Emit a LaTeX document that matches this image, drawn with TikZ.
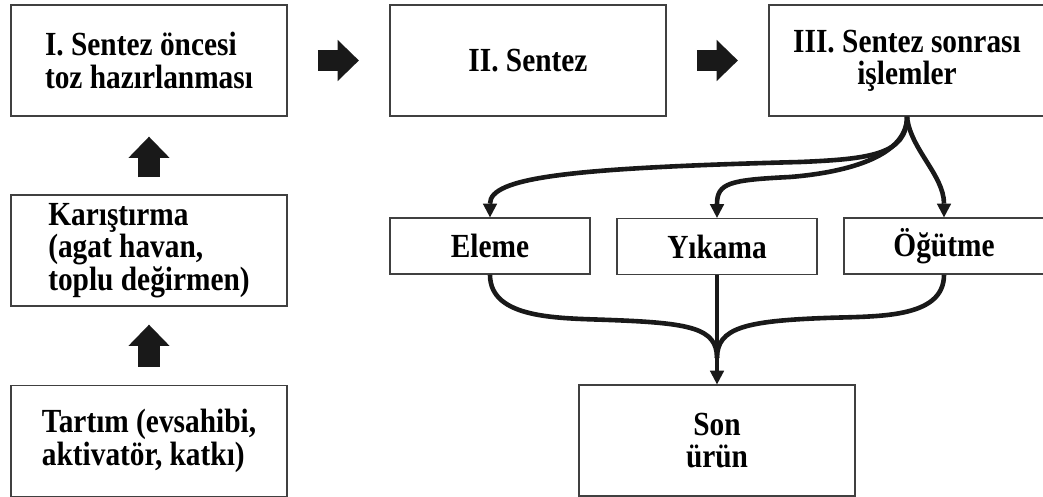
\documentclass[tikz,border=0pt]{standalone}
\usepackage{fontspec}
\setmainfont{Liberation Serif}[FakeStretch=0.87]
\usetikzlibrary{arrows.meta}
\tikzset{
  box/.style={draw=black!75, line width=1pt, fill=white, inner sep=0pt,
    minimum width=6.9cm, minimum height=2.775cm,
    font=\bfseries\fontsize{24}{23}\selectfont},
  smallbox/.style={box, minimum width=5cm, minimum height=1.4cm},
  bigarrow/.style={line width=0.53cm, black!90,
    -{Triangle[length=0.53cm, width=1.03cm, line width=0pt]}},
  flow/.style={line width=0.115cm, black!90, line cap=butt,
    -{Triangle[length=0.34cm, width=0.36cm, line width=0pt]}},
  merge/.style={line width=0.115cm, black!90}
}
\begin{document}
\begin{tikzpicture}[x=0.025cm, y=-0.025cm]
            \useasboundingbox (0,0) rectangle (1043,497);
            \node[box, align=left] (prep) at (149,60.5) {I. Sentez öncesi\\toz hazırlanması};
            \node[box] (synth) at (528,60.5) {II. Sentez};
            \node[box, align=center] (post) at (907,60.5) {III. Sentez sonrası\\işlemler};
            \node[box, align=left] (mix) at (149,250.5) {Karıştırma\\(agat havan,\\toplu değirmen)};
            \node[box, align=left] (weigh) at (149,441) {Tartım (evsahibi,\\aktivatör, katkı)};

            \node[smallbox] (sieve) at (490,246) {Eleme};
            \node[smallbox] (wash) at (717,246.5) {Yıkama};
            \node[smallbox] (grind) at (944,246) {Öğütme};
            \node[box, align=center] (product) at (717,440.5) {Son\\ürün};

            \draw[bigarrow, shorten <=0.75cm, shorten >=0.76cm] (prep) -- (synth);
            \draw[bigarrow, shorten <=0.75cm, shorten >=0.76cm] (synth) -- (post);
            \draw[bigarrow, shorten <=0.42cm, shorten >=0.5cm] (mix) -- (prep);
            \draw[bigarrow, shorten <=0.45cm, shorten >=0.45cm] (weigh) -- (mix);

            \draw[flow] (post.south) .. controls +(0,38) and +(70,-3) .. (800,162)
                .. controls +(-230,6) and +(0,-40) .. (sieve.north);
            \draw[flow] (post.south) .. controls +(0,42) and +(50,-4) .. (790,177)
                .. controls +(-60,3) and +(0,-35) .. (wash.north);
            \draw[flow] (post.south) .. controls +(3,32) and +(0,-42) .. (grind.north);

            \coordinate (join) at (717,358);
            \draw[merge] (sieve.south) .. controls +(0,45) and +(-50,-2) .. (610,320)
                .. controls +(80,3) and +(0,-30) .. (join);
            \draw[merge] (grind.south) .. controls +(0,45) and +(50,-2) .. (825,318)
                .. controls +(-80,3) and +(0,-30) .. (join);
            \draw[flow] (wash.south) -- (product.north);
\end{tikzpicture}
\end{document}
